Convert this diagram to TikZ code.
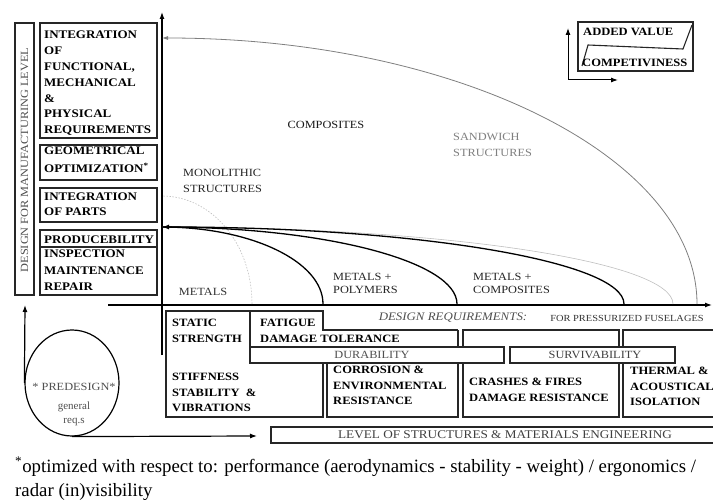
\documentclass[tikz,border=0pt]{standalone}
\usepackage{fontspec}
\setmainfont{Liberation Serif}
\newfontfamily\wide{Liberation Serif}[FakeStretch=1.12]
\usetikzlibrary{arrows.meta,shapes.geometric}
\definecolor{ln}{HTML}{262626}
\definecolor{gt}{HTML}{505050}
\definecolor{lg}{HTML}{808080}
\definecolor{fg}{HTML}{C0C0C0}
\begin{document}
\begin{tikzpicture}[x=1pt,y=-1pt,
  bx/.style={draw=ln, line width=1.2pt, fill=white},
  bt/.style={font=\wide\bfseries\fontsize{11.6}{15.8}\selectfont, align=left, inner sep=0, anchor=north west, text=black},
  st/.style={font=\wide\bfseries\fontsize{11.2}{15.6}\selectfont, align=left, inner sep=0, anchor=north west, text=black},
  rt/.style={font=\wide\fontsize{11}{15.5}\selectfont, align=left, inner sep=0},
  arr/.style={line width=1.2pt, draw=black, -{Latex[length=7pt,width=5pt]}},
  blk/.style={line width=1.3pt, draw=black},
]
\useasboundingbox (0,0) rectangle (713,500);
\fill[white] (0,0) rectangle (713,500);

% ---------- left column ----------
\draw[bx] (15,23) rectangle (34,295);
\node[rt, text=gt, rotate=90] (dfm) at (24.5,160) {DESIGN FOR MANUFACTURING LEVEL};
\draw[bx] (40,23) rectangle (157,138);
\draw[bx] (40,145) rectangle (157,180);
\draw[bx] (40,188) rectangle (157,222);
\draw[bx] (40,230) rectangle (157,295);
\draw[draw=ln, line width=1.2pt] (40,247) -- (157,247);
\node[bt] (t1) at (44,31) {INTEGRATION\\OF\\FUNCTIONAL,\\MECHANICAL\\\&\\PHYSICAL\\REQUIREMENTS};
\node[bt, font=\wide\bfseries\fontsize{11.6}{18}\selectfont] (t2) at (44,147) {GEOMETRICAL\\OPTIMIZATION\textsuperscript{*}};
\node[bt, font=\wide\bfseries\fontsize{11.6}{15}\selectfont] (t3) at (44,193) {INTEGRATION\\OF PARTS};
\node[bt] (t4) at (44,236) {PRODUCEBILITY};
\node[bt, font=\wide\bfseries\fontsize{11.6}{16.5}\selectfont] (t5) at (44,250) {INSPECTION\\MAINTENANCE\\REPAIR};

% ---------- axes ----------
\coordinate (o) at (162,355);
\coordinate (ytop) at (162,12);
\coordinate (hx0) at (108,305);
\coordinate (hx1) at (712,305);
\draw[arr] (o) -- (ytop);
\draw[arr] (hx0) -- (hx1);

% ---------- curves ----------
\coordinate (c0) at (162,38);
\coordinate (c0e) at (697,304);
\coordinate (cm) at (162,196);
\coordinate (cme) at (252,304);
\coordinate (cc) at (162,227);
\coordinate (e1) at (323,304);
\coordinate (e2) at (457,304);
\coordinate (e3) at (624,304);
\coordinate (e4) at (673,304);
\draw[draw=lg, line width=0.8pt, -{Latex[length=6pt,width=4pt]}] (c0e) .. controls (697,157) and (457,38) .. (c0);
\draw[draw=fg, line width=0.6pt, dash pattern=on 1.5pt off 1.5pt] (cme) .. controls (252,244) and (212,196) .. (cm);
\draw[draw=fg, line width=0.6pt] (e4) .. controls (673,261.5) and (444,227) .. (cc);
\draw[blk] (e1) .. controls (323,261.5) and (251,227) .. (cc);
\draw[blk] (e2) .. controls (457,261.5) and (325,227) .. (cc);
\draw[blk, -{Latex[length=7pt,width=5pt]}] (e3) .. controls (624,261.5) and (417,227) .. (cc);

\node[rt, text=black!90] (comp) at (326,125) {COMPOSITES};
\node[rt, text=black!85, anchor=west] (mono) at (183,181) {MONOLITHIC\\STRUCTURES};
\node[rt, text=lg, anchor=west] (sand) at (453,145) {SANDWICH\\STRUCTURES};
\node[rt, text=black!80] (met) at (203,292) {METALS};
\node[rt, text=black!85, anchor=west, font=\wide\fontsize{11}{13}\selectfont] (mp) at (333,283.5) {METALS +\\POLYMERS};
\node[rt, text=black!85, anchor=west, font=\wide\fontsize{11}{13}\selectfont] (mc) at (473,283.5) {METALS +\\COMPOSITES};

% ---------- added value ----------
\draw[bx] (578,22) rectangle (693,71);
\draw[draw=ln, line width=1.1pt] (692,25) -- (683,49) -- (588,45) -- (582,66);
\coordinate (av0) at (568,80);
\coordinate (av1) at (568,28);
\coordinate (av2) at (618,80);
\draw[arr, line width=1pt] (av0) -- (av1);
\draw[arr, line width=1pt] (av0) -- (av2);
\node[st, anchor=west] (addv) at (583,32) {ADDED VALUE};
\node[st, anchor=west] (compv) at (582,63) {COMPETIVINESS};

% ---------- design requirements ----------
\node[rt, text=gt, font=\wide\itshape\fontsize{11.5}{14}\selectfont] (dr) at (453,318) {DESIGN REQUIREMENTS:};
\node[rt, text=black!80, font=\wide\fontsize{9.3}{12}\selectfont] (fpf) at (627,318) {FOR PRESSURIZED FUSELAGES};

\draw[draw=ln, line width=1.2pt] (250,311) -- (166,311) -- (166,417) -- (323,417) -- (323,363);
\draw[draw=ln, line width=1.2pt] (250,363) -- (250,311) -- (323,311) -- (323,330) -- (458,330);
\draw[draw=ln, line width=1.2pt] (327,363) -- (327,417) -- (458,417) -- (458,330);
\draw[bx, fill=none] (463,330) rectangle (619,417);
\draw[draw=ln, line width=1.2pt] (716,330) -- (623,330) -- (623,417) -- (716,417);
\draw[bx] (250,347) rectangle (504,363);
\draw[bx] (510,347) rectangle (675,363);

\node[st] (ss) at (172,319.3) {STATIC\\STRENGTH};
\node[st] (fd) at (260,319.3) {FATIGUE\\DAMAGE TOLERANCE};
\node[rt, text=gt] (dur) at (372,355) {DURABILITY};
\node[rt, text=black!75] (sur) at (595,355) {SURVIVABILITY};
\node[st] (stf) at (172,373) {STIFFNESS\\STABILITY \ \&\\VIBRATIONS};
\node[st] (cor) at (333,366) {CORROSION \&\\ENVIRONMENTAL\\RESISTANCE};
\node[st] (cra) at (469,378) {CRASHES \& FIRES\\DAMAGE RESISTANCE};
\node[st] (the) at (630,367) {THERMAL \&\\ACOUSTICAL\\ISOLATION};

% ---------- level box ----------
\draw[bx] (271,427) rectangle (720,443);
\node[rt, text=black!75, font=\wide\fontsize{11.8}{14}\selectfont] (lev) at (505,435) {LEVEL OF STRUCTURES \& MATERIALS ENGINEERING};

% ---------- predesign ----------
\node[draw=black, line width=1.2pt, ellipse, minimum width=94pt, minimum height=106pt, inner sep=0] (pre) at (72,383) {};
\node[rt, text=gt, align=center, font=\wide\fontsize{11}{15}\selectfont] (pret) at (74,387) {* PREDESIGN*};
\node[rt, text=gt, align=center, font=\fontsize{11}{14}\selectfont] (gen) at (74,414) {general\\req.s};
\coordinate (vtop) at (25,305);
\coordinate (hend) at (257,436);
\draw[arr] (pre.west) -- (vtop);
\draw[arr] (pre.south) -- (hend);

% ---------- footnote ----------
\node[inner sep=0, anchor=base west, font=\fontsize{18.8}{24}\selectfont] (fn1) at (15,472) {\textsuperscript{*}optimized with respect to: performance (aerodynamics - stability - weight) / ergonomics /};
\node[inner sep=0, anchor=base west, font=\fontsize{18.8}{24}\selectfont] (fn2) at (15,496) {radar (in)visibility};
\end{tikzpicture}
\end{document}
